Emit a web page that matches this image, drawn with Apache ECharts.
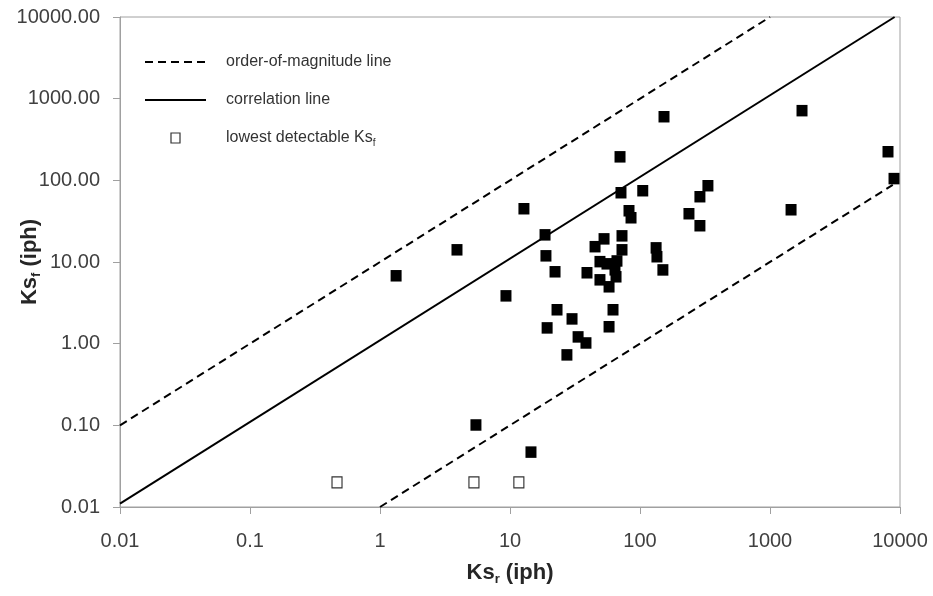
<!DOCTYPE html>
<html>
<head>
<meta charset="utf-8">
<script src="https://cdn.jsdelivr.net/npm/echarts@6/dist/echarts.min.js"></script>
<style>html,body{margin:0;padding:0;background:#fff;}#c{width:933px;height:596px;}</style>
</head>
<body>
<div id="c"></div>
<script>
// measured Ks_r (x) and Ks_f (y), iph
var ksR = [1.33, 3.91, 5.47, 9.31, 12.8, 14.5, 18.6, 18.9, 22.2, 23.0, 19.3, 27.4, 30.0, 33.4, 38.4, 39.1,
  45.1, 52.9, 49.2, 55.7, 66.5, 64.2, 65.4, 49.2, 57.8, 62.0, 57.8, 72.7, 72.7, 71.4, 70.2, 82.3, 85.3,
  105, 133, 135, 150, 153, 238, 289, 333, 289, 1452, 1763, 8085, 8995];
var ksF = [6.78, 14.1, 0.101, 3.85, 44.9, 0.047, 21.5, 11.9, 7.59, 2.60, 1.56, 0.729, 2.01, 1.21, 1.02, 7.38,
  15.4, 19.2, 10.1, 9.5, 10.3, 8.02, 6.59, 6.05, 4.97, 2.60, 1.61, 20.9, 14.1, 70.5, 194, 42.4, 34.8,
  74.6, 14.9, 11.6, 8.0, 601, 39.0, 63.0, 85.9, 27.8, 43.6, 713, 224, 105];
// lowest detectable Ks_f
var lowR = [0.467, 5.28, 11.7];
var lowF = [0.02, 0.02, 0.02];
// reference lines
var upperX = [0.01, 1000], upperY = [0.1, 10000];
var corrX = [0.01, 9090], corrY = [0.011, 10000];
var lowerX = [1, 8800], lowerY = [0.01, 88];
var xTicks = [0.01, 0.1, 1, 10, 100, 1000, 10000];

function zip(a, b) { return a.map(function (v, i) { return [v, b[i]]; }); }
var FONT = 'Liberation Sans';
var chart = echarts.init(document.getElementById('c'));
var axisGray = '#a0a0a0';
var noSym = { color: 'rgba(0,0,0,0)', borderWidth: 0, opacity: 0 };
chart.setOption({
  animation: false,
  backgroundColor: '#fff',
  grid: { left: 120, right: 33, top: 17, bottom: 89, show: true, borderColor: axisGray, borderWidth: 1,
    containLabel: false, outerBoundsMode: 'none' },
  legend: {
    orient: 'vertical', left: 139, top: 49, itemWidth: 61, itemHeight: 10, itemGap: 22,
    symbolKeepAspect: true,
    data: [
      { name: 'order-of-magnitude line', itemStyle: noSym },
      { name: 'correlation line', itemStyle: noSym },
      { name: 'lowest detectable Ks_f', icon: 'path://M0,0H9V10H0Z', symbolKeepAspect: true,
        itemStyle: { color: '#fff', borderColor: '#333', borderWidth: 1.2 } }
    ],
    formatter: function (n) { return n === 'lowest detectable Ks_f' ? '{t|lowest detectable Ks}{s|f}' : '{t|' + n + '}'; },
    textStyle: {
      padding: [0, 0, 0, 15],
      rich: {
        t: { fontFamily: FONT, fontSize: 16, color: '#333', lineHeight: 18 },
        s: { fontFamily: FONT, fontSize: 10, color: '#333', padding: [10, 0, 0, 0] }
      }
    }
  },
  xAxis: {
    type: 'log', logBase: 10, min: 0.01, max: 10000, interval: 1,
    name: '{a|Ks}{b|r}{a| (iph)}', nameLocation: 'middle', nameGap: 52, nameMoveOverlap: false,
    nameTextStyle: { rich: {
      a: { fontFamily: FONT, fontSize: 22, fontWeight: 'bold', color: '#262626' },
      b: { fontFamily: FONT, fontSize: 13, fontWeight: 'bold', color: '#262626', padding: [14, 0, 0, 0] }
    } },
    axisLine: { lineStyle: { color: axisGray, width: 1 } },
    axisTick: { show: true, length: 7, lineStyle: { color: axisGray } },
    minorTick: { show: false },
    splitLine: { show: false },
    axisLabel: { fontFamily: FONT, fontSize: 20, color: '#404040', margin: 24,
      formatter: function (v) { var r = xTicks.filter(function (t) { return Math.abs(t - v) / t < 1e-6; }); return r.length ? String(r[0]) : String(v); } }
  },
  yAxis: {
    type: 'log', logBase: 10, min: 0.01, max: 10000, interval: 1,
    name: '{a|Ks}{b|f}{a| (iph)}', nameLocation: 'middle', nameGap: 77, nameMoveOverlap: false,
    nameTextStyle: { rich: {
      a: { fontFamily: FONT, fontSize: 22, fontWeight: 'bold', color: '#262626' },
      b: { fontFamily: FONT, fontSize: 13, fontWeight: 'bold', color: '#262626', padding: [14, 0, 0, 0] }
    } },
    axisLine: { lineStyle: { color: axisGray, width: 1 } },
    axisTick: { show: true, length: 7, lineStyle: { color: axisGray } },
    splitLine: { show: false },
    axisLabel: { fontFamily: FONT, fontSize: 20, color: '#404040', margin: 20,
      formatter: function (v) { return Number(v).toFixed(2); } }
  },
  series: [
    { name: 'order-of-magnitude line', type: 'line', data: zip(upperX, upperY), symbol: 'none',
      lineStyle: { color: '#000', width: 2, type: [8, 5] }, itemStyle: { color: '#000' }, z: 2 },
    { name: 'order-of-magnitude line', type: 'line', data: zip(lowerX, lowerY), symbol: 'none',
      lineStyle: { color: '#000', width: 2, type: [8, 5] }, itemStyle: { color: '#000' }, z: 2 },
    { name: 'correlation line', type: 'line', data: zip(corrX, corrY), symbol: 'none',
      lineStyle: { color: '#000', width: 2 }, itemStyle: { color: '#000' }, z: 2 },
    { name: 'measured', type: 'scatter', data: zip(ksR, ksF), symbol: 'rect', symbolSize: [11, 11.5],
      itemStyle: { color: '#000', opacity: 1 }, z: 3 },
    { name: 'lowest detectable Ks_f', type: 'scatter', data: zip(lowR, lowF), symbol: 'rect', symbolSize: [10, 11],
      itemStyle: { color: '#fff', borderColor: '#333', borderWidth: 1.2, opacity: 1 }, z: 3 }
  ]
});
</script>
</body>
</html>
